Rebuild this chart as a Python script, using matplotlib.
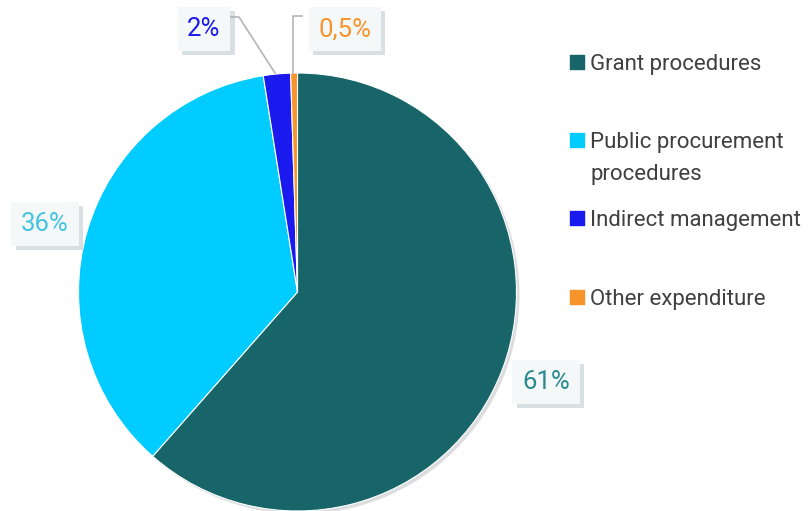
import matplotlib
matplotlib.use("Agg")
import matplotlib.pyplot as plt
import matplotlib.patheffects as pe
from matplotlib.patches import Circle

categories = ["Grant procedures", "Public procurement\nprocedures", "Indirect management", "Other expenditure"]
values = [61.5, 36, 2, 0.5]
value_labels = ["61%", "36%", "2%", "0,5%"]
colors = ["#176568", "#00CCFF", "#1A1AEE", "#F7942C"]
label_colors = ["#2A8A8E", "#45C3E3", "#1A1AEE", "#F7942C"]

W, H = 810, 511
plt.rcParams['font.family'] = ['Roboto', 'DejaVu Sans']
fig = plt.figure(figsize=(W / 100, H / 100), dpi=100)
ax = fig.add_axes([0, 0, 1, 1])

cx, cy, r = 297.5, H - 292, 219
sh = Circle((cx + 3, cy - 3), r, fc='#b8bcbf', ec='none', alpha=0.5, zorder=0)
ax.add_patch(sh)
wedges, _ = ax.pie(values, colors=colors, startangle=90, counterclock=False,
                   center=(cx, cy), radius=r, frame=True,
                   wedgeprops=dict(edgecolor='white', linewidth=0.8))
ax.set_xlim(0, W)
ax.set_ylim(0, H)
ax.set_aspect('equal')
ax.axis('off')

# value labels in shadowed boxes
label_pos = [(546, H - 382), (45, H - 224), (204, H - 29), (345, H - 29)]
for lab, col, (x, y) in zip(value_labels, label_colors, label_pos):
    t = ax.text(x, y, lab, color=col, fontsize=18.5, ha='center', va='center',
                bbox=dict(boxstyle='square,pad=0.38', fc='#F5F8F9', ec='none'), zorder=5)
    t.get_bbox_patch().set_path_effects([
        pe.SimplePatchShadow(offset=(3, -3), shadow_rgbFace='#9fb3ba', alpha=0.4),
        pe.Normal()])

# leader lines
ax.plot([228, 239, 275], [H - 17, H - 17, H - 73], color='#b5b5b5', lw=1.2, zorder=4)
ax.plot([293, 293, 302], [H - 73, H - 16, H - 16], color='#b5b5b5', lw=1.2, zorder=4)

# legend
leg_y = [62, 140, 218, 297]
for cat, col, y in zip(categories, colors, leg_y):
    ax.scatter([577], [H - y], marker='s', s=110, color=col, zorder=5)
    ax.text(590, H - y - 8, cat.split("\n")[0], color='#404040', fontsize=16, ha='left',
            va='baseline')
    if "\n" in cat:
        ax.text(590, H - y - 40, cat.split("\n")[1], color='#404040', fontsize=16,
                ha='left', va='baseline')

fig.savefig("out.png", dpi=100)
